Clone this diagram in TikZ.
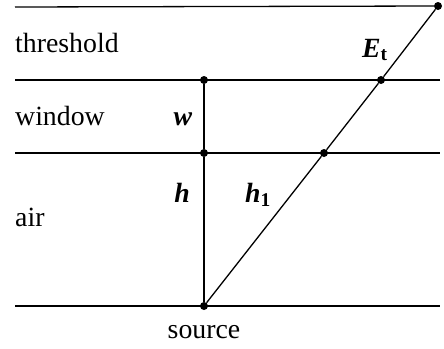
\documentclass[tikz,border=0pt]{standalone}
\usepackage{fontspec}
\setmainfont{Liberation Serif}
\usetikzlibrary{positioning}
\begin{document}
\begin{tikzpicture}[
    x=1pt, y=-1pt,
    layer/.style={line width=1.3pt},
    pt/.style={circle, fill=black, inner sep=0pt, minimum size=8pt},
    lab/.style={font=\fontsize{27.8}{32}\selectfont, inner sep=0pt},
    var/.style={font=\fontsize{27.8}{32}\selectfont\bfseries\itshape, inner sep=0pt}
]
\useasboundingbox (0,0) rectangle (444,348);
% layer boundaries
\coordinate (t0) at (15,7);
\coordinate (w0) at (15,80);
\coordinate (w1) at (440,80);
\coordinate (a0) at (15,153);
\coordinate (a1) at (440,153);
\coordinate (s0) at (15,306);
\coordinate (s1) at (440,306);
% points
\node[pt] (top) at (438,6) {};
\node[pt] (wv) at (204,80) {};
\node[pt] (av) at (204,153) {};
\node[pt] (src) at (204,306) {};
\node[pt] (wd) at (381,80) {};
\node[pt] (ad) at (324,153) {};

\draw[layer] (t0) -- (top);
\draw[layer] (w0) -- (w1);
\draw[layer] (a0) -- (a1);
\draw[layer] (s0) -- (s1);
\draw[layer] (wv) -- (av) -- (src);
\draw[layer] (src) -- (ad) -- (wd) -- (top);

% text
\node[lab, anchor=base west] (thr) at (15,52) {threshold};
\node[lab, anchor=base west] (win) at (15,125) {window};
\node[lab, anchor=base west] (air) at (15,226) {air};
\node[lab, anchor=base] (srcl) at (204,338) {source};
\node[var, anchor=base] (wl) at (183,125) {w};
\node[var, anchor=base] (hl) at (182,202) {h};
\node[var, anchor=base west] (h1l) at (245,202) {h\textsubscript{\upshape 1}};
\node[var, anchor=base west] (etl) at (362,57) {E\textsubscript{\upshape t}};
\end{tikzpicture}
\end{document}
